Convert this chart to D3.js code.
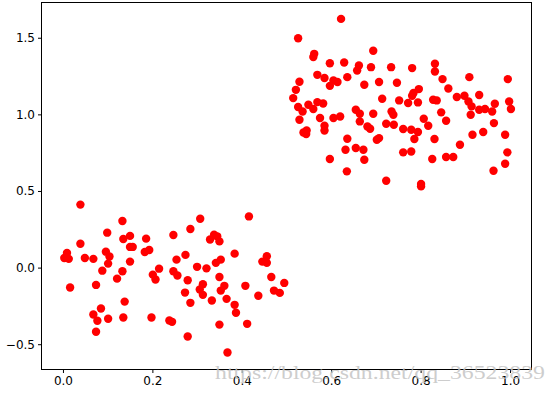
<!DOCTYPE html>
<html>
<head>
<meta charset="utf-8">
<script src="https://cdn.jsdelivr.net/npm/d3@7"></script>
<style>
  body { margin: 0; background: #fff; }
  #chart-container { width: 559px; height: 394px; }
</style>
</head>
<body>
<div id="chart-container"></div>
<script>
const FONT_SIZE = 12
const POINT_COLOR = '#ff0000'
const POINT_RADIUS = 4.2

// lower left cluster
var xLow = [0.039, 0.133, 0.099, 0.150, 0.135, 0.186, 0.247, 0.039, 0.150, 0.156,
  0.096, 0.009, 0.183, 0.193, 0.003, 0.013, 0.049, 0.068, 0.104, 0.101,
  0.150, 0.254, 0.088, 0.133, 0.215, 0.121, 0.201, 0.207, 0.247, 0.256,
  0.016, 0.074, 0.138, 0.085, 0.068, 0.077, 0.101, 0.135, 0.198, 0.238,
  0.244, 0.074, 0.307, 0.416, 0.285, 0.338, 0.345, 0.329, 0.350, 0.384,
  0.274, 0.456, 0.446, 0.456, 0.353, 0.342, 0.300, 0.321, 0.350, 0.279,
  0.466, 0.495, 0.313, 0.306, 0.313, 0.361, 0.353, 0.408, 0.273, 0.472,
  0.485, 0.437, 0.366, 0.333, 0.285, 0.384, 0.387, 0.350, 0.412, 0.279,
  0.368]
var yLow = [0.411, 0.304, 0.228, 0.207, 0.187, 0.189, 0.213, 0.156, 0.135, 0.135,
  0.104, 0.096, 0.102, 0.115, 0.063, 0.057, 0.063, 0.057, 0.072, 0.026,
  0.039, 0.052, -0.020, -0.024, -0.007, -0.072, -0.046, -0.078, -0.024, -0.052,
  -0.130, -0.113, -0.222, -0.267, -0.306, -0.347, -0.334, -0.326, -0.326, -0.345,
  -0.354, -0.419, 0.319, 0.334, 0.252, 0.215, 0.204, 0.183, 0.171, 0.091,
  0.083, 0.074, 0.039, 0.031, 0.052, 0.031, 0.005, -0.005, -0.061, -0.083,
  -0.061, -0.100, -0.109, -0.143, -0.178, -0.119, -0.150, -0.119, -0.163, -0.150,
  -0.165, -0.184, -0.204, -0.215, -0.230, -0.243, -0.295, -0.372, -0.367, -0.450,
  -0.554]

// upper right cluster
var xHigh = [0.622, 0.526, 0.562, 0.560, 0.694, 0.597, 0.629, 0.662, 0.658, 0.689,
  0.734, 0.781, 0.569, 0.585, 0.636, 0.605, 0.614, 0.597, 0.529, 0.674,
  0.707, 0.747, 0.521, 0.515, 0.714, 0.752, 0.772, 0.549, 0.569, 0.582,
  0.526, 0.536, 0.560, 0.529, 0.575, 0.605, 0.620, 0.655, 0.664, 0.664,
  0.694, 0.735, 0.739, 0.723, 0.740, 0.761, 0.779, 0.538, 0.545, 0.544,
  0.585, 0.585, 0.681, 0.687, 0.636, 0.702, 0.707, 0.632, 0.655, 0.672,
  0.597, 0.674, 0.761, 0.779, 0.635, 0.723, 0.832, 0.832, 0.849, 0.909,
  0.995, 0.796, 0.784, 0.781, 0.862, 0.881, 0.898, 0.931, 0.907, 0.794,
  0.828, 0.836, 0.966, 0.998, 0.914, 0.912, 0.931, 0.944, 0.960, 1.002,
  0.846, 0.807, 0.817, 0.857, 0.964, 0.794, 0.786, 0.831, 0.916, 0.940,
  0.989, 0.888, 0.994, 0.826, 0.857, 0.873, 0.989, 0.963, 0.801, 0.801]
var yHigh = [1.623, 1.497, 1.395, 1.374, 1.415, 1.334, 1.338, 1.319, 1.286, 1.308,
  1.308, 1.302, 1.258, 1.237, 1.243, 1.221, 1.211, 1.186, 1.213, 1.193,
  1.211, 1.206, 1.160, 1.106, 1.102, 1.091, 1.074, 1.063, 1.080, 1.071,
  1.048, 1.019, 1.035, 0.965, 0.976, 0.976, 0.986, 1.030, 1.004, 0.954,
  1.004, 1.019, 0.997, 0.939, 0.932, 0.904, 0.900, 0.882, 0.895, 0.872,
  0.926, 0.895, 0.921, 0.906, 0.841, 0.834, 0.845, 0.769, 0.780, 0.769,
  0.709, 0.704, 0.752, 0.758, 0.628, 0.567, 1.330, 1.280, 1.230, 1.243,
  1.230, 1.165, 1.139, 1.121, 1.169, 1.113, 1.121, 1.126, 1.084, 1.078,
  1.095, 1.091, 1.069, 1.084, 1.052, 0.997, 1.030, 1.035, 1.019, 1.035,
  1.013, 0.971, 0.926, 0.958, 0.943, 0.885, 0.839, 0.839, 0.867, 0.885,
  0.867, 0.802, 0.752, 0.709, 0.722, 0.722, 0.678, 0.632, 0.546, 0.530]

var xTicks = [0.0, 0.2, 0.4, 0.6, 0.8, 1.0]
var yTicks = [-0.5, 0.0, 0.5, 1.0, 1.5]
var watermark = 'https://blog.csdn.net/qq_36523839'

generateScatter(d3.select('#chart-container'))

/**
 * @param {Selection} container The div to draw the scatter plot in
 */
function generateScatter (container) {
  var width = 559
  var height = 394
  var margin = {top: 2.5, right: 27.5, bottom: 24.5, left: 41.5}

  var svg = container.append('svg')
    .attr('width', width)
    .attr('height', height)

  var xScale = d3.scaleLinear()
    .domain([-0.048, 1.048])
    .range([margin.left, width - margin.right])
  var yScale = d3.scaleLinear()
    .domain([-0.665, 1.73])
    .range([height - margin.bottom, margin.top])

  // Points
  var points = []
  for (let i = 0; i < xLow.length; i++) points.push([xLow[i], yLow[i]])
  for (let i = 0; i < xHigh.length; i++) points.push([xHigh[i], yHigh[i]])
  svg.append('g')
    .attr('id', 'points')
    .selectAll('circle')
    .data(points)
    .enter()
    .append('circle')
      .attr('cx', d => xScale(d[0]))
      .attr('cy', d => yScale(d[1]))
      .attr('r', POINT_RADIUS)
      .attr('fill', POINT_COLOR)

  // Frame
  svg.append('rect')
    .attr('x', margin.left)
    .attr('y', margin.top)
    .attr('width', width - margin.right - margin.left)
    .attr('height', height - margin.bottom - margin.top)
    .attr('fill', 'none')
    .attr('stroke', '#000')
    .attr('stroke-width', 1)

  // X axis
  var xAxis = svg.append('g')
    .attr('transform', 'translate(0,' + (height - margin.bottom) + ')')
    .call(d3.axisBottom(xScale).tickValues(xTicks).tickFormat(d3.format('.1f'))
      .tickSize(3.5).tickPadding(3).tickSizeOuter(0))
  xAxis.select('.domain').remove()

  // Y axis
  var yAxis = svg.append('g')
    .attr('transform', 'translate(' + margin.left + ',0)')
    .call(d3.axisLeft(yScale).tickValues(yTicks).tickFormat(d3.format('.1f'))
      .tickSize(3.5).tickPadding(3).tickSizeOuter(0))
  yAxis.select('.domain').remove()

  svg.selectAll('.tick text')
    .attr('fill', '#000')
    .style('font-family', 'DejaVu Sans')
    .style('font-size', FONT_SIZE + 'px')
  svg.selectAll('.tick line')
    .attr('stroke', '#000')

  // Watermark, drawn over the axis like in the screenshot
  svg.append('text')
    .attr('x', 215)
    .attr('y', 379)
    .attr('textLength', 330)
    .attr('lengthAdjust', 'spacingAndGlyphs')
    .text(watermark)
    .attr('fill', '#c4c4c4')
    .attr('fill-opacity', 0.85)
    .style('font-family', 'Liberation Serif')
    .style('font-size', '18px')
}
</script>
</body>
</html>
